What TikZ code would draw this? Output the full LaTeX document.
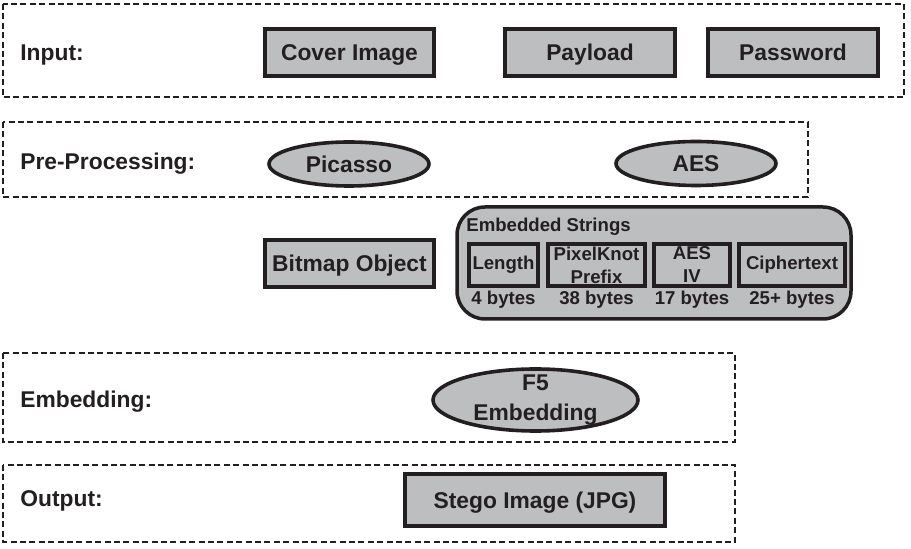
\documentclass[tikz,border=0pt]{standalone}
\usepackage{fontspec}
\setmainfont{Liberation Sans}
\usetikzlibrary{shapes.geometric}
\usepackage{xcolor}

\definecolor{boxgray}{HTML}{BCBEC0}
\definecolor{inkblack}{HTML}{231F20}

\tikzset{
  bigfont/.style={font=\fontsize{11.4}{13}\selectfont\bfseries, text=inkblack},
  smallfont/.style={font=\fontsize{9.3}{11.5}\selectfont\bfseries, text=inkblack},
  stage/.style={draw=inkblack, line width=1.4pt, dash pattern=on 3pt off 1.7pt},
  stagelabel/.style={bigfont, anchor=base west, inner sep=0pt},
  databox/.style={bigfont, draw=inkblack, fill=boxgray, line width=2pt, inner sep=0pt,
    text height=8.2pt, text depth=0pt, minimum height=23.5pt},
  process/.style={bigfont, ellipse, draw=inkblack, fill=boxgray, line width=1.8pt, inner sep=0pt,
    text height=8.2pt, text depth=0pt},
  strings/.style={draw=inkblack, fill=boxgray, line width=1.75pt, rounded corners=14pt,
    minimum width=197pt, minimum height=56pt},
  field/.style={smallfont, draw=inkblack, line width=2pt, inner sep=0pt, align=center,
    minimum height=21pt},
  bytesize/.style={smallfont, anchor=base, inner sep=0pt}
}

\begin{document}
\begin{tikzpicture}[x=0.5pt,y=-0.5pt]
      \useasboundingbox (0,0) rectangle (911,549);

      % Stages
      \draw[stage] (3,4) rectangle (904,97);
      \draw[stage] (3,122) rectangle (808,197);
      \draw[stage] (3,353) rectangle (735,442);
      \draw[stage] (3,465) rectangle (735,542);

      \node[stagelabel] (inlabel) at (20,61) {Input:};
      \node[stagelabel] (prelabel) at (20,170) {Pre-Processing:};
      \node[stagelabel] (emblabel) at (20,408) {Embedding:};
      \node[stagelabel] (outlabel) at (20,507) {Output:};

      % Input
      \node[databox, minimum width=84.5pt] (cover) at (349.5,52.5) {Cover Image};
      \node[databox, minimum width=85pt] (payload) at (590,52.5) {Payload};
      \node[databox, minimum width=85pt] (password) at (793,52.5) {Password};

      % Pre-Processing
      \node[process, minimum width=80pt, minimum height=22pt] (picasso) at (349,164) {Picasso};
      \node[process, minimum width=80pt, minimum height=22pt] (aes) at (696,163.5) {AES};

      \node[databox, minimum width=84.5pt] (bitmap) at (349.5,263.5) {Bitmap Object};

      % Embedded strings
      \node[strings] (embstrings) at (654,263) {};
      \node[smallfont, anchor=base west, inner sep=0pt] (embtitle) at (466,232) {Embedded Strings};
      \foreach \name/\x/\w/\txt/\size in {length/503.5/34.5pt/Length/4,
          prefix/596.5/48.5pt/{PixelKnot\\Prefix}/38,
          aesiv/692/38pt/{AES\\IV}/17,
          cipher/792/53pt/Ciphertext/25+}
      {
        \node[field, minimum width=\w] (\name) at (\x,265) {\txt};
        \node[bytesize] (\name-bytes) at (\x,305) {\size{} bytes};
      }

      % Embedding
      \node[process, minimum width=102.5pt, minimum height=31pt] (f5) at (535.5,400) {};
      \node[bigfont, align=center, inner sep=0pt, font=\fontsize{11.4}{15}\selectfont\bfseries] (f5text) at (f5.center) {F5\\Embedding};

      % Output
      \node[databox, minimum width=130pt, minimum height=26pt] (stego) at (535,500) {Stego Image (JPG)};
\end{tikzpicture}
\end{document}
